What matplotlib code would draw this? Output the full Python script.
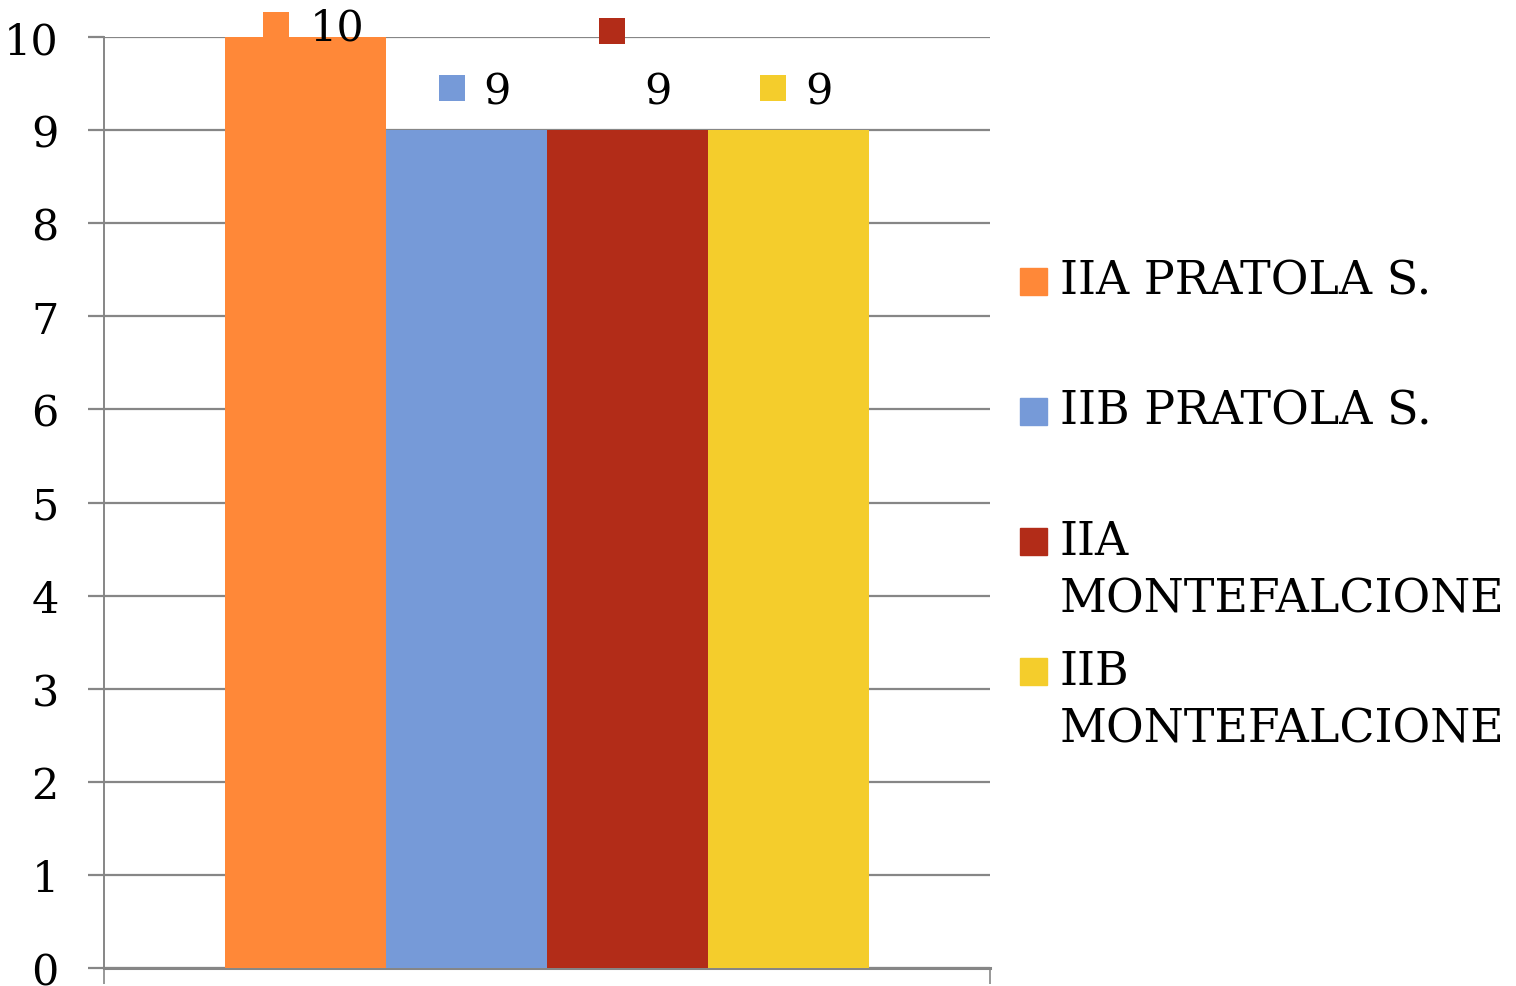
import matplotlib
matplotlib.use("Agg")
import matplotlib.pyplot as plt
from matplotlib.transforms import offset_copy
from matplotlib.patches import Rectangle

# data
series = ["IIA PRATOLA S.", "IIB PRATOLA S.", "IIA MONTEFALCIONE", "IIB MONTEFALCIONE"]
legend_text = ["IIA PRATOLA S.", "IIB PRATOLA S.", "IIA\nMONTEFALCIONE", "IIB\nMONTEFALCIONE"]
values = [10, 9, 9, 9]
colors = ["#FF8838", "#769AD8", "#B22C18", "#F4CD2C"]
yticks = list(range(0, 11))

# label layout (points, relative to bar top centre)
label_dx = [22.7, 21.6, 21.6, 21.6]
label_dy = [7, 28, 28, 28]
key_dx = [-20.9, -10.8, -10.8, -10.8]
key_dy = [8.3, 30, 71, 30]

plt.rcParams['font.family'] = ['DejaVu Serif']
W, H = 1516, 987
fig = plt.figure(figsize=(W / 100, H / 100), dpi=100)
ax = fig.add_axes([104 / W, 1 - 969 / H, (990 - 104) / W, (969 - 38) / H])

grey = "#868686"
bw = 0.1817
xs = [(i - 1.5) * bw for i in range(len(values))]
ax.bar(xs, values, width=bw, color=colors, zorder=3)

ax.set_xlim(-0.5, 0.5)
ax.set_ylim(0, 10)
ax.set_yticks(yticks)
ax.set_yticklabels([str(t) for t in yticks], fontsize=31)
ax.set_xticks([-0.5, 0.5])
ax.set_xticklabels([])
ax.grid(axis='y', color=grey, linewidth=1.6, zorder=0)
ax.tick_params(axis='y', length=11.5, width=1.6, color=grey, pad=21)
ax.tick_params(axis='x', length=11.5, width=1.2, color=grey)
for s in ["top", "right"]:
    ax.spines[s].set_visible(False)
ax.spines["left"].set_color(grey)
ax.spines["left"].set_linewidth(1.4)
ax.spines["bottom"].set_color(grey)
ax.spines["bottom"].set_linewidth(2.2)

# data labels with little colour keys
for x, v, c, dx, dy, kx, ky in zip(xs, values, colors, label_dx, label_dy, key_dx, key_dy):
    ax.annotate(str(v), (x, v), xytext=(dx, dy), textcoords="offset points",
                ha="center", va="center", fontsize=31, annotation_clip=False)
    tr = offset_copy(ax.transData, fig=fig, x=kx, y=ky, units="points")
    ax.plot([x], [v], marker="s", markersize=19.4, color=c, markeredgewidth=0,
            transform=tr, clip_on=False)

# legend drawn by hand
for i, (lab, c) in enumerate(zip(legend_text, colors)):
    y0 = 282 + i * 130
    fig.patches.append(Rectangle((1020 / W, 1 - (y0 + 13.5) / H), 27 / W, 27 / H,
                                 transform=fig.transFigure, color=c))
    for k, line in enumerate(lab.split("\n")):
        fig.text(1060 / W, 1 - (y0 + k * 58) / H, line, fontsize=33,
                 ha="left", va="center")

fig.savefig("out.png", dpi=100)
